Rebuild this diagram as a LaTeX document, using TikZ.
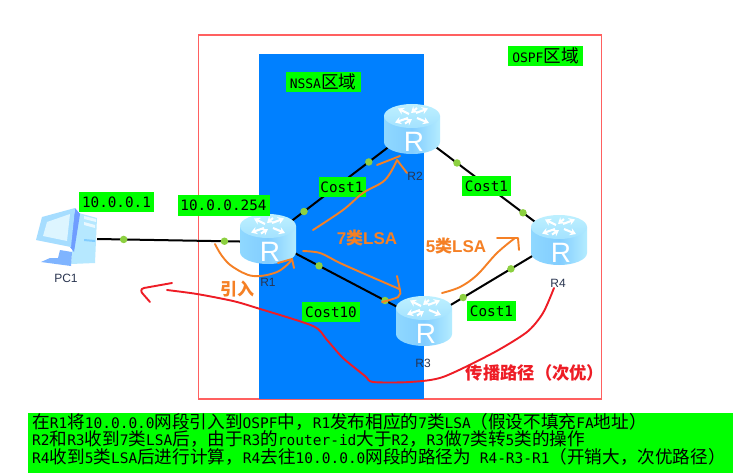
\documentclass[tikz,border=0pt]{standalone}
\usepackage{fontspec}
\setmainfont{Liberation Sans}
\newfontfamily\cjk{Noto Sans CJK SC}
\newfontfamily\mono{DejaVu Sans Mono}
\newcommand{\zh}[1]{{\cjk #1}}
\newcommand{\zhb}[1]{{\cjk\fontsize{17.6}{17.6}\selectfont #1}}
\usetikzlibrary{arrows.meta}
\definecolor{tagGreen}{HTML}{00FF00}
\definecolor{areaBlue}{HTML}{0080FF}
\definecolor{frameRed}{HTML}{FF6060}
\definecolor{strokeRed}{HTML}{EE1C25}
\definecolor{strokeOrange}{HTML}{F58025}
\definecolor{dotGreen}{HTML}{8CD040}
\definecolor{labelInk}{HTML}{2A3550}
\definecolor{bodyL}{HTML}{8FD8FF}
\definecolor{bodyM}{HTML}{82CDFF}
\definecolor{bodyR}{HTML}{B4ECFF}
\definecolor{capTop}{HTML}{BDF0FF}
\definecolor{capBot}{HTML}{A4E2FF}
\definecolor{pcFrame}{HTML}{A6DDFF}
\definecolor{pcScreen}{HTML}{DDF5FF}
\definecolor{pcTower}{HTML}{B6E8FF}
\definecolor{pcSide}{HTML}{6F9DFF}
\definecolor{pcStand}{HTML}{7FB4FF}
\tikzset{
  tag/.style={fill=tagGreen,inner sep=0pt,minimum height=20pt,font=\mono\fontsize{14.3}{16}\selectfont,text=black},
  devbox/.style={inner sep=0pt,minimum width=56pt,minimum height=50pt},
  devname/.style={inner sep=0pt,font=\fontsize{12}{14}\selectfont,text=labelInk},
  linkline/.style={draw=black,line width=2pt},
  linkdot/.style={circle,fill=dotGreen,inner sep=0pt,minimum size=7.5pt},
  freeOrange/.style={draw=strokeOrange,line width=1.9pt,line cap=round,line join=round},
  freeRed/.style={draw=strokeRed,line width=1.9pt,line cap=round,line join=round},
  bigOrange/.style={inner sep=0pt,text=strokeOrange,font=\bfseries\fontsize{17}{19}\selectfont},
  router/.pic={
    \path[left color=bodyL,right color=bodyR,middle color=bodyM]
      (-28,-13) -- (-28,13) arc[start angle=180,end angle=360,x radius=28,y radius=-12] -- (28,-13) -- cycle;
    \path[top color=capTop,bottom color=capBot] (0,-13) ellipse[x radius=28,y radius=12];
    \draw[white,line width=2.1pt,-{Stealth[length=6pt,width=7.5pt]}] (-3,-15) -- (-14,-20.5);
    \draw[white,line width=2.1pt,-{Stealth[length=6pt,width=7.5pt]}] (5,-21) -- (-1,-16);
    \draw[white,line width=2.1pt,-{Stealth[length=6pt,width=7.5pt]}] (5,-11) -- (17,-6);
    \draw[white,line width=2.1pt,-{Stealth[length=6pt,width=7.5pt]}] (-7,-5.5) -- (0,-10);
    \draw[white,line width=2.1pt,-{Stealth[length=6pt,width=7.5pt]}] (4,-16) -- (16,-20.5);
    \draw[white,line width=2.1pt,-{Stealth[length=6pt,width=7.5pt]}] (-4,-11) -- (-17,-6.5);
    \node (-letter) [inner sep=0pt,text=white,font=\fontsize{28}{30}\selectfont] at (2,13) {R};
  },
}
\begin{document}
\begin{tikzpicture}[x=1pt,y=-1pt]
\useasboundingbox (0,0) rectangle (733,473);
\fill[white] (0,0) rectangle (733,473);
% areas
\node (ospf) [draw=frameRed,line width=1.6pt,inner sep=0pt,minimum width=403pt,minimum height=364pt,anchor=north west] at (197.5,34) {};
\node (nssa) [fill=areaBlue,inner sep=0pt,minimum width=165pt,minimum height=345pt,anchor=north west] at (259,54) {};
% invisible device anchors
\node (r1) [devbox] at (268,239) {};
\node (r2) [devbox] at (412,129) {};
\node (r3) [devbox] at (424,321) {};
\node (r4) [devbox] at (559,240) {};
\node (pc) [inner sep=0pt,minimum width=62pt,minimum height=60pt] at (66,239) {};
\coordinate (r1port) at (268,242);
% connectors
\path[linkline] (pc.east) -- (r1port)
  node (d1) [linkdot,pos=.155] {} node (d2) [linkdot,pos=.745] {};
\path[linkline] (r1.center) -- (r2.center)
  node (d3) [linkdot,pos=.25] {} node (d4) [linkdot,pos=.70] {};
\path[linkline] (r2.center) -- (r4.center)
  node (d5) [linkdot,pos=.306] {} node (d6) [linkdot,pos=.755] {};
\path[linkline] (r1.center) -- (r3.center)
  node (d7) [linkdot,pos=.327] {} node (d8) [linkdot,pos=.75] {};
\path[linkline] (r3.center) -- (r4.center)
  node (d9) [linkdot,pos=.29] {} node (d10) [linkdot,pos=.644] {};
% routers
\pic (pr1) at (r1.center) {router};
\pic (pr2) at (r2.center) {router};
\pic (pr3) at (r3.center) {router};
\pic (pr4) at (r4.center) {router};
% PC
\begin{scope}
  \fill[pcTower] (75,212) -- (97,218) -- (95,263) -- (71,264) -- cycle;
  \fill[white!70!pcTower] (84,216) -- (96,219) -- (96,222) -- (84,219) -- cycle;
  \fill[white!70!pcTower] (84,222) -- (95,225) -- (95,228) -- (84,225) -- cycle;
  \fill[bodyM] (84,239) -- (95,240) -- (95,242) -- (84,241) -- cycle;
  \fill[pcStand] (60,250) -- (72,252) -- (71,266) -- (41,262) -- (50,258) -- (58,258) -- cycle;
  \fill[pcSide] (75,208) -- (80,214) -- (74,252) -- (70,247) -- cycle;
  \fill[pcFrame] (42,217) -- (75,208) -- (71,247) -- (36,240) -- cycle;
  \fill[pcScreen] (47,222) -- (70,214) -- (67,241) -- (43,236) -- cycle;
\end{scope}
% device names
\node (nr1) [devname] at (268,282) {R1};
\node (nr2) [devname] at (415,176) {R2};
\node (nr3) [devname] at (423,363) {R3};
\node (nr4) [devname] at (558,283) {R4};
\node (npc) [devname] at (66,278) {PC1};
% green tags
\node (t1) [tag,minimum width=75pt] at (116.5,202) {10.0.0.1};
\node (t2) [tag,minimum width=92pt] at (223.5,205.5) {10.0.0.254};
\node (t3) [tag,minimum width=47pt] at (342,187) {Cost1};
\node (t4) [tag,minimum width=49pt] at (486.5,186) {Cost1};
\node (t5) [tag,minimum width=49pt] at (491.5,311) {Cost1};
\node (t6) [tag,minimum width=58pt] at (331,312) {Cost10};
\node (t7) [tag,minimum width=75pt] at (323,82) {\fontsize{13}{16}\selectfont NSSA\zhb{区域}};
\node (t8) [tag,minimum width=75pt] at (545.5,56) {\fontsize{13}{16}\selectfont OSPF\zhb{区域}};
% orange strokes
\draw[freeOrange] plot[smooth,tension=.6] coordinates {(215,244) (222,256) (233,267) (253,276) (277,272) (292,260)};
\draw[freeOrange] (278,263) -- (292,259) -- (294,268);
\draw[freeOrange] plot[smooth,tension=.6] coordinates {(313,230) (343,210) (363,193) (385,180) (397,160)};
\draw[freeOrange] (377,165) -- (400,156);
\draw[freeOrange] (397,160) -- (407,173);
\draw[freeOrange] plot[smooth,tension=.5] coordinates {(303,251) (320,253) (340,263) (367,275) (390,285) (400,290) (398,297) (382,302)};
\draw[freeOrange] (397,276) -- (400,290);
\draw[freeOrange] plot[smooth,tension=.6] coordinates {(442,293) (460,287) (477,275) (497,253) (515,238)};
\draw[freeOrange] (497,238) -- (518,238) -- (519,250);
% red stroke
\draw[freeRed] plot[smooth,tension=.45] coordinates {(554,288) (543,313) (527,332) (493,353) (443,377) (410,382) (373,382) (365,376) (343,358) (327,340) (313,326) (257,308) (233,301) (197,294) (167,290)};
\draw[freeRed] (172,283) -- (144,288) .. controls (140,289) and (141,292) .. (143,294) -- (150,302);
% big labels
\node (l1) [bigOrange] at (237,289) {\cjk 引入};
\node (l2) [bigOrange] at (367,238) {7\zh{类}LSA};
\node (l3) [bigOrange] at (456,246) {5\zh{类}LSA};
\node (l4) [inner sep=0pt,text=strokeRed,font=\cjk\bfseries\fontsize{17.3}{20}\selectfont] at (535,373) {传播路径（次优）};
% bottom note
\node (notebox) [fill=tagGreen,inner sep=0pt,minimum width=705pt,minimum height=60pt,anchor=north west] at (28,413) {};
\node (note) [inner sep=0pt,anchor=north west,align=left,text=black,font=\mono\fontsize{14.5}{17.6}\selectfont] at (32,413) {\lineskiplimit=-30pt\relax%
\zhb{在}R1\zhb{将}10.0.0.0\zhb{网段引入到}OSPF\zhb{中，}R1\zhb{发布相应的}7\zhb{类}LSA\zhb{（假设不填充}FA\zhb{地址）}\\
R2\zhb{和}R3\zhb{收到}7\zhb{类}LSA\zhb{后，由于}R3\zhb{的}router-id\zhb{大于}R2\zhb{，}R3\zhb{做}7\zhb{类转}5\zhb{类的操作}\\
R4\zhb{收到}5\zhb{类}LSA\zhb{后进行计算，}R4\zhb{去往}10.0.0.0\zhb{网段的路径为} R4-R3-R1\zhb{（开销大，次优路径）}};
\end{tikzpicture}
\end{document}
